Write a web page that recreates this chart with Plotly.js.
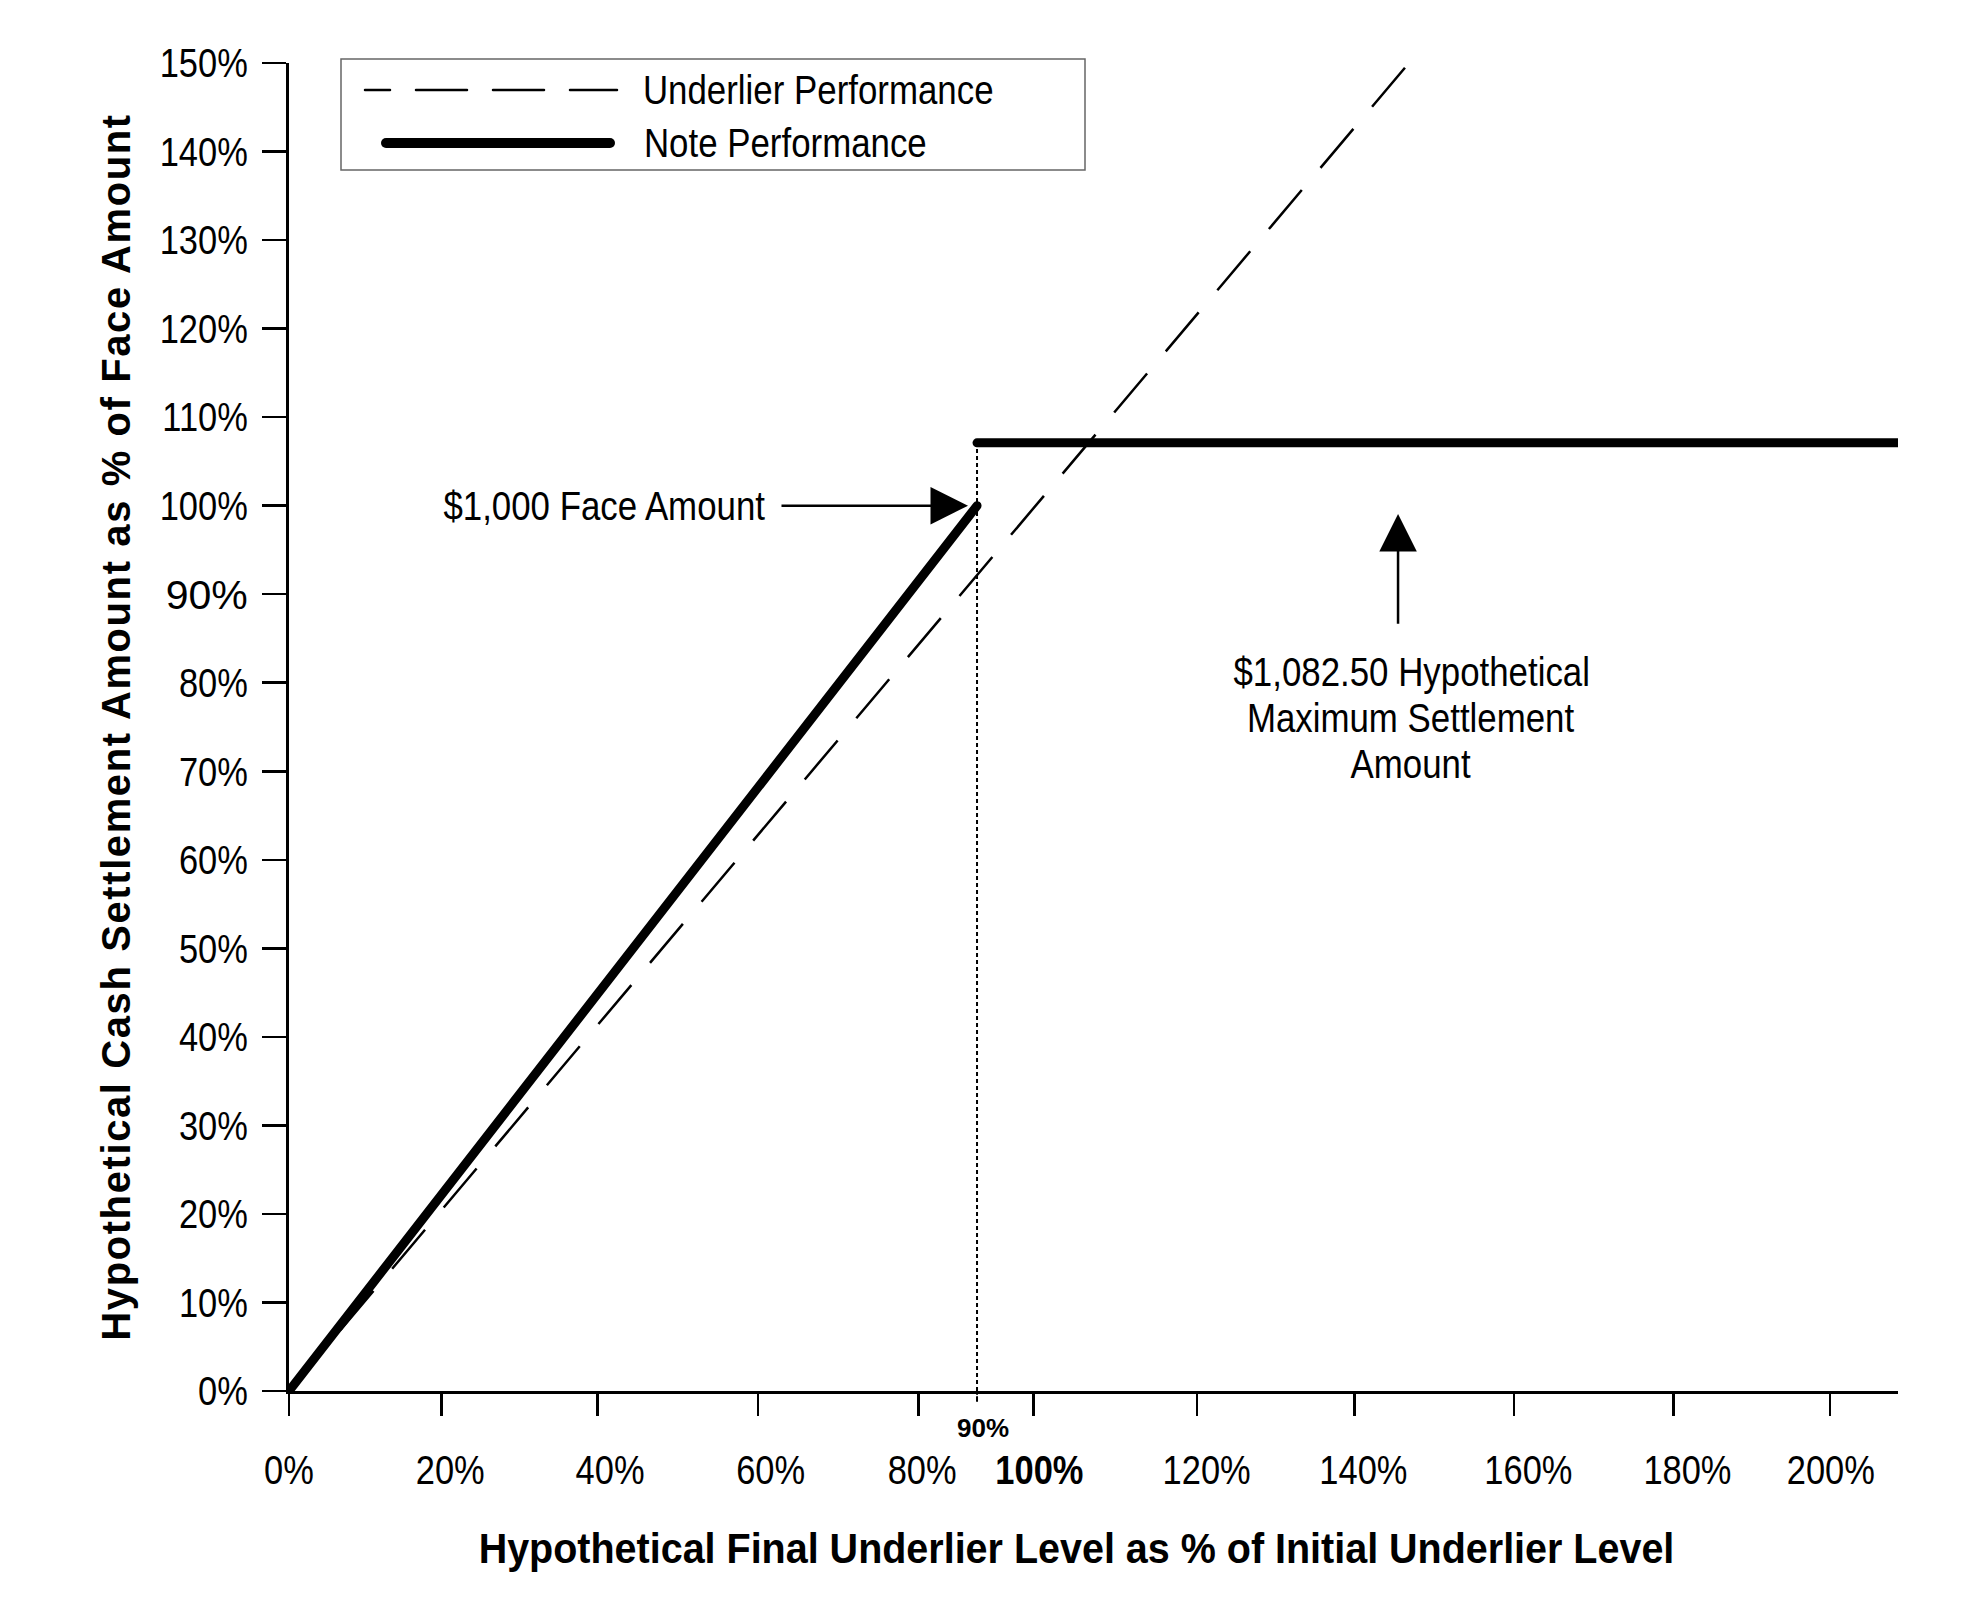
<!DOCTYPE html>
<html>
<head>
<meta charset="utf-8">
<script src="https://cdn.plot.ly/plotly-3.0.1.min.js"></script>
<style>
  body { margin: 0; background: #fff; }
  .ytitle { letter-spacing: 1.6px; }
  .scatterlayer .trace:last-child .js-line { stroke-linecap: round; }
  .shapelayer path { stroke-linecap: round; }
</style>
</head>
<body>
<div id="chart" style="width:1980px;height:1616px;"></div>
<script>
// x is drawn on the chart's own (uneven) scale, the labels are what the reference prints
const xTickVals = [0, 20.4, 41.3, 62.8, 84.3, 99.7, 121.6, 142.7, 164.1, 185.4, 206.4];
const xLabelVals = [0, 21.6, 43.0, 64.5, 84.8, 100.5, 122.9, 143.9, 166.0, 187.3, 206.5];
const xTickText = ['0%', '20%', '40%', '60%', '80%', '<b>100%</b>', '120%', '140%', '160%', '180%', '200%'];
const yTickVals = [0, 10, 20, 30, 40, 50, 60, 70, 80, 90, 100, 110, 120, 130, 140, 150];
const yTickText = yTickVals.map(v => v + '%');

const underlierLevel = [0, 150];
const underlierValue = [0, 150];
const noteLevel = [0, 92.15, null, 92.15, 216];
const noteValue = [0, 100, null, 107.1, 107.1];
const strikeLevel = [92.15, 92.15];
const strikeValue = [0, 107.1];
const strikeLabel = '90%';

const faceLabel = '$1,000 Face Amount';
const maxLabelLines = ['$1,082.50 Hypothetical', 'Maximum Settlement', 'Amount'];

const SANS = '"Liberation Sans", Arial, sans-serif';

// paper helpers for the hand-drawn legend (plot area 289..1898 x 63..1391)
const PX = x => (x - 289) / 1609;
const PY = y => (1391 - y) / 1328;

let traces = [
  {x: strikeLevel, y: strikeValue, mode: 'lines', hoverinfo: 'skip', showlegend: false,
   line: {color: '#000', width: 2, dash: '4px,3px'}},
  {x: underlierLevel, y: underlierValue, mode: 'lines', name: 'Underlier Performance', showlegend: false,
   line: {color: '#000', width: 2.5, dash: '51px,29px'}},
  {x: [], y: [], xaxis: 'x2', mode: 'lines', hoverinfo: 'skip', showlegend: false},
  {x: noteLevel, y: noteValue, mode: 'lines', name: 'Note Performance', showlegend: false,
   connectgaps: false, line: {color: '#000', width: 9}}
];

let annotations = [
  {x: 42.26, y: 100, text: faceLabel, showarrow: false, xanchor: 'center', yanchor: 'middle',
   font: {family: SANS, size: 41}},
  {x: noteLevel[1], y: noteValue[1], ax: 65.76, ay: 100, axref: 'x', ayref: 'y', text: '',
   showarrow: true, arrowhead: 2, arrowsize: 3, arrowwidth: 2.5, standoff: 9, arrowcolor: '#000'},
  {x: 148.54, y: 99.06, ax: 148.54, ay: 86.5, axref: 'x', ayref: 'y', text: '',
   showarrow: true, arrowhead: 2, arrowsize: 3, arrowwidth: 2.5, arrowcolor: '#000'},
  {x: strikeLevel[0], xshift: 6, y: PY(1445), yref: 'paper', text: '<b>' + strikeLabel + '</b>',
   showarrow: false, font: {family: SANS, size: 26}},
  {x: PX(817.5), y: PY(90), xref: 'paper', yref: 'paper', text: 'Underlier Performance', showarrow: false,
   xanchor: 'center', yanchor: 'middle', font: {family: SANS, size: 41}},
  {x: PX(785), y: PY(143), xref: 'paper', yref: 'paper', text: 'Note Performance', showarrow: false,
   xanchor: 'center', yanchor: 'middle', font: {family: SANS, size: 41}}
];
maxLabelLines.forEach((line, i) => {
  annotations.push({x: 150.3, y: 76, yshift: 46 - 46 * i, text: line, showarrow: false,
    xanchor: 'center', yanchor: 'middle', font: {family: SANS, size: 41}});
});

let shapes = [
  {type: 'rect', xref: 'paper', yref: 'paper', x0: PX(341), x1: PX(1085), y0: PY(170), y1: PY(59),
   line: {color: '#666', width: 1.5}, fillcolor: 'rgba(0,0,0,0)', layer: 'above'},
  {type: 'line', xref: 'paper', yref: 'paper', x0: PX(365), x1: PX(617), y0: PY(90), y1: PY(90),
   line: {color: '#000', width: 2.5, dash: '25px,26px,51px,26px,51px,26px,48px'}, layer: 'above'},
  {type: 'line', xref: 'paper', yref: 'paper', x0: PX(386), x1: PX(610), y0: PY(143), y1: PY(143),
   line: {color: '#000', width: 10}, layer: 'above'},
  {type: 'line', xref: 'x', yref: 'paper', x0: strikeLevel[0], x1: strikeLevel[0], y0: PY(1401), y1: 0,
   line: {color: '#000', width: 2, dash: '4px,3px'}}
];

let layout = {
  width: 1980, height: 1616,
  margin: {l: 289, r: 82, t: 63, b: 225},
  paper_bgcolor: '#fff', plot_bgcolor: '#fff',
  font: {family: SANS, color: '#000'},
  showlegend: false,
  xaxis: {
    range: [0, 215.5], tickmode: 'array', tickvals: xTickVals, showticklabels: false,
    ticks: 'outside', ticklen: 22, tickwidth: 2.5, tickcolor: '#000',
    showline: true, linewidth: 3, linecolor: '#000', showgrid: false, zeroline: false
  },
  xaxis2: {
    overlaying: 'x', anchor: 'y', side: 'bottom', range: [0, 215.5],
    tickmode: 'array', tickvals: xLabelVals, ticktext: xTickText, ticks: '',
    ticklabelstandoff: 51, tickfont: {family: SANS, size: 41, color: '#000'},
    showline: false, showgrid: false, zeroline: false,
    title: {text: 'Hypothetical Final Underlier Level as % of Initial Underlier Level',
            font: {family: SANS, size: 42, weight: 700, color: '#000'}, standoff: 41}
  },
  yaxis: {
    range: [0, 150], tickmode: 'array', tickvals: yTickVals, ticktext: yTickText,
    ticks: 'outside', ticklen: 24, tickwidth: 2.5, tickcolor: '#000', ticklabelstandoff: 6,
    tickfont: {family: SANS, size: 41, color: '#000'},
    showline: true, linewidth: 3, linecolor: '#000', showgrid: false, zeroline: false,
    title: {text: 'Hypothetical Cash Settlement Amount as % of Face Amount',
            font: {family: SANS, size: 40, weight: 700, color: '#000'}, standoff: 0}
  },
  annotations: annotations,
  shapes: shapes
};

// no narrow font is installed, so squeeze the glyphs of the narrow texts instead
function squeeze(gd, sel, f) {
  gd.querySelectorAll(sel).forEach(t => {
    if (t.textContent === strikeLabel) return;
    let w = t.getComputedTextLength();
    t.setAttribute('textLength', (w * f).toFixed(1));
    t.setAttribute('lengthAdjust', 'spacingAndGlyphs');
  });
}

Plotly.newPlot('chart', traces, layout, {staticPlot: true}).then(gd => {
  squeeze(gd, '.x2tick text, .ytick text', 0.84);
  squeeze(gd, '.annotation-text', 0.85);
  squeeze(gd, '.x2title', 0.94);
  // the reference title sits a little left of the axis centre
  let xt = gd.querySelector('.x2title');
  if (xt) xt.setAttribute('x', (parseFloat(xt.getAttribute('x')) - 17).toFixed(1));
});
</script>
</body>
</html>
